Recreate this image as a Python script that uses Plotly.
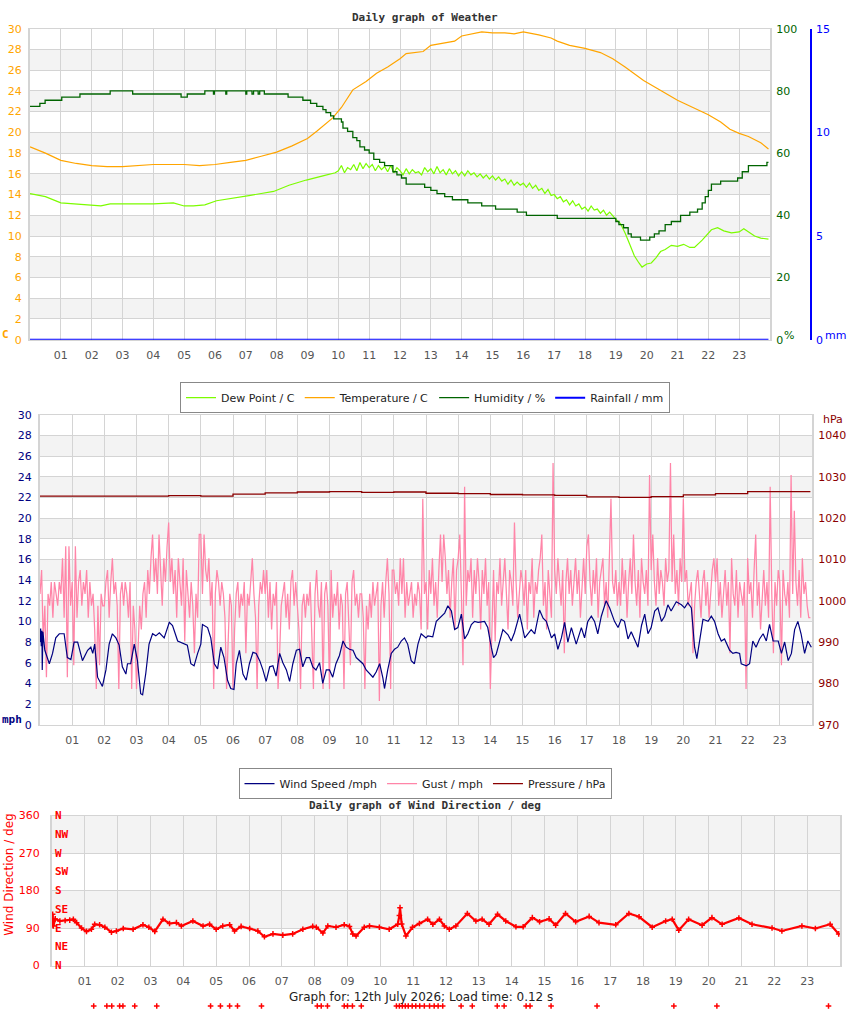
import plotly.graph_objects as go

W, H = 850, 1017
FONT = "DejaVu Sans"
MONO = "DejaVu Sans Mono"

# ---------------- Panel 1 : Weather ----------------
temp_hours = [0, 0.5, 1.0, 1.5, 2.0, 2.5, 3.0, 3.5, 4.0, 4.5, 5.0, 5.5, 6.0, 6.5, 7.0, 7.5, 8.0, 8.5,
              9.0, 9.3, 9.6, 9.82, 10.1, 10.47, 10.9, 11.24, 11.6, 12.0, 12.2, 12.75, 13.0, 13.4, 13.77,
              14.0, 14.3, 14.65, 15.0, 15.4, 15.7, 16.0, 16.5, 16.9, 17.1, 17.5, 18.0, 18.5, 18.9, 19.3,
              19.9, 20.5, 21.0, 21.5, 22.0, 22.4, 22.7, 23.0, 23.3, 23.7, 23.95]
temp_c = [18.6, 18.0, 17.3, 17.0, 16.8, 16.7, 16.7, 16.8, 16.9, 16.9, 16.9, 16.8, 16.9, 17.1, 17.3, 17.7,
          18.1, 18.7, 19.4, 20.1, 20.9, 21.4, 22.4, 24.1, 24.9, 25.7, 26.3, 27.1, 27.6, 27.8, 28.4, 28.6,
          28.8, 29.3, 29.5, 29.7, 29.6, 29.6, 29.5, 29.7, 29.4, 29.1, 28.8, 28.4, 28.1, 27.7, 27.1, 26.3,
          25.0, 24.0, 23.1, 22.4, 21.7, 21.0, 20.3, 19.9, 19.6, 19.0, 18.4]

dew_hours_early = [0, 0.5, 1.0, 1.5, 2.0, 2.3, 2.6, 3.0, 3.5, 4.0, 4.65, 5.0, 5.3, 5.67, 6.05, 6.6, 7.1,
                   7.5, 7.9, 8.4, 8.96, 9.5, 9.9]
dew_c_early = [14.1, 13.8, 13.2, 13.1, 13.0, 12.9, 13.1, 13.1, 13.1, 13.1, 13.2, 12.9, 12.9, 13.0, 13.4,
               13.7, 13.9, 14.1, 14.3, 14.9, 15.4, 15.8, 16.1]
# 6-minute readings 10:00 - 18:54 (noisy part)
dew_c_mid = [16.3, 16.8, 16.1, 16.6, 16.4, 16.9, 16.3, 17.1, 16.5, 17.0,
             16.6, 16.9, 16.3, 16.8, 16.4, 16.7, 16.2, 16.8, 16.1, 16.6,
             16.3, 15.9, 16.5, 16.0, 16.4, 16.1, 16.2, 15.9, 16.6, 16.2,
             16.5, 16.0, 16.7, 16.1, 16.4, 15.9, 16.5, 16.0, 16.3, 15.8,
             16.2, 15.8, 16.3, 15.9, 16.1, 15.7, 16.0, 15.6, 15.9, 15.5,
             15.8, 15.4, 15.7, 15.3, 15.5, 15.0, 15.4, 14.9, 15.2, 14.9,
             15.1, 14.7, 15.1, 14.6, 14.9, 14.4, 14.6, 14.1, 14.5, 13.9,
             14.0, 13.6, 13.8, 13.3, 13.5, 13.0, 13.4, 12.9, 13.1, 12.6,
             12.8, 12.4, 12.9, 12.5, 12.6, 12.2, 12.5, 12.0, 12.3, 11.9]
dew_hours_mid = [10 + i / 10 for i in range(len(dew_c_mid))]
dew_hours_late = [19.0, 19.15, 19.3, 19.45, 19.6, 19.75, 19.85, 20.0, 20.15, 20.3, 20.45, 20.6, 20.8, 21.0,
                  21.2, 21.4, 21.55, 21.8, 22.1, 22.3, 22.5, 22.75, 23.0, 23.15, 23.3, 23.5, 23.7, 23.95]
dew_c_late = [11.6, 11.2, 10.3, 9.2, 8.1, 7.4, 7.0, 7.3, 7.4, 7.9, 8.5, 8.7, 9.1, 9.0, 9.2, 8.9, 8.9, 9.6,
              10.6, 10.8, 10.5, 10.3, 10.4, 10.7, 10.4, 10.0, 9.8, 9.7]
dew_hours = dew_hours_early + dew_hours_mid + dew_hours_late
dew_c = dew_c_early + dew_c_mid + dew_c_late

hum_hours = [0, 0.32, 0.49, 1.03, 1.62, 2.6, 3.33, 4.9, 5.1, 5.67, 5.95, 5.98, 6.35, 6.38, 7.0, 7.03,
             7.2, 7.25, 7.4, 7.45, 7.6, 8.37, 8.85, 9.1, 9.3, 9.5, 9.6, 9.75, 9.85, 10.1, 10.15, 10.3,
             10.47, 10.6, 10.7, 10.85, 11.0, 11.15, 11.34, 11.5, 11.77, 11.9, 12.05, 12.2, 12.8, 13.0,
             13.2, 13.45, 13.7, 14.2, 14.65, 15.1, 15.8, 16.1, 17.1, 19.0, 19.1, 19.25, 19.4, 19.5, 19.8,
             20.1, 20.25, 20.4, 20.6, 20.8, 21.1, 21.4, 21.65, 21.8, 21.9, 22.0, 22.1, 22.4, 22.95, 23.1,
             23.3, 23.9, 23.95]
hum_pct = [75, 76, 77, 78, 79, 80, 79, 78, 79, 80, 79, 80, 79, 80, 79, 80, 79, 80, 79, 80, 79, 78, 77,
           76, 75, 74, 73, 72, 71, 70, 68, 67, 65, 64, 62, 61, 60, 58, 57, 56, 54, 53, 52, 50, 49, 48, 47,
           46, 45, 44, 43, 42, 41, 40, 39, 38, 37, 36, 34, 33, 32, 33, 34, 35, 37, 38, 40, 41, 42, 44, 46,
           48, 50, 51, 52, 54, 56, 57, 57]

rain_hours = [0, 23.95]
rain_mm = [0, 0]

# ---------------- Panel 2 : Wind speed / gust / pressure ----------------
wind_hours = [0.0, 0.02, 0.04, 0.06, 0.07, 0.09, 0.15, 0.29, 0.39, 0.49, 0.6, 0.75, 0.85, 0.96, 1.06, 1.17,
              1.32, 1.48, 1.58, 1.64, 1.7, 1.79, 1.94, 2.05, 2.15, 2.25, 2.36, 2.46, 2.56, 2.67, 2.72, 2.82,
              2.93, 3.03, 3.13, 3.19, 3.29, 3.39, 3.5, 3.6, 3.71, 3.86, 4.02, 4.12, 4.28, 4.48, 4.58, 4.69,
              4.79, 4.9, 5.0, 5.05, 5.21, 5.31, 5.42, 5.52, 5.62, 5.72, 5.83, 5.93, 6.03, 6.1, 6.2, 6.31,
              6.41, 6.51, 6.62, 6.72, 6.83, 6.93, 7.03, 7.14, 7.24, 7.34, 7.45, 7.55, 7.66, 7.76, 7.86, 7.97,
              8.07, 8.17, 8.28, 8.38, 8.48, 8.58, 8.69, 8.79, 8.9, 9.0, 9.1, 9.2, 9.31, 9.42, 9.52, 9.62,
              9.73, 9.83, 9.93, 10.04, 10.14, 10.25, 10.35, 10.45, 10.56, 10.66, 10.71, 10.81, 10.92, 11.02,
              11.12, 11.23, 11.33, 11.43, 11.54, 11.64, 11.75, 11.85, 12.0, 12.06, 12.21, 12.32, 12.48,
              12.58, 12.68, 12.79, 12.89, 12.99, 13.1, 13.2, 13.3, 13.41, 13.51, 13.62, 13.82, 13.92, 14.03,
              14.1, 14.18, 14.29, 14.39, 14.55, 14.65, 14.75, 14.91, 15.07, 15.17, 15.27, 15.38, 15.53,
              15.64, 15.74, 15.9, 16.0, 16.1, 16.21, 16.31, 16.41, 16.52, 16.67, 16.83, 16.93, 17.03, 17.14,
              17.24, 17.34, 17.45, 17.6, 17.71, 17.86, 17.97, 18.07, 18.17, 18.28, 18.38, 18.49, 18.59,
              18.7, 18.8, 18.9, 19.0, 19.11, 19.21, 19.32, 19.42, 19.52, 19.62, 19.78, 19.94, 20.04, 20.14,
              20.25, 20.35, 20.42, 20.5, 20.61, 20.77, 20.87, 20.97, 21.08, 21.18, 21.28, 21.44, 21.54,
              21.64, 21.75, 21.8, 21.96, 22.06, 22.16, 22.26, 22.37, 22.48, 22.58, 22.68, 22.79, 22.95,
              23.05, 23.15, 23.26, 23.36, 23.46, 23.56, 23.66, 23.77, 23.87, 23.98]
wind_mph = [8.0, 9.3, 7.6, 9.1, 5.3, 9.0, 7.2, 5.9, 6.9, 8.4, 8.8, 8.8, 6.5, 6.3, 8.0, 8.0,
            6.2, 7.2, 7.5, 6.9, 7.8, 4.6, 3.7, 5.3, 7.8, 8.8, 8.4, 7.7, 5.6, 4.9, 5.9, 5.9,
            7.8, 6.2, 3.0, 2.9, 5.0, 7.8, 8.8, 8.6, 8.9, 8.4, 9.9, 9.6, 8.1, 7.8, 7.7, 5.9,
            5.7, 6.9, 7.8, 9.7, 9.4, 8.4, 5.9, 5.4, 7.5, 6.5, 4.3, 3.5, 3.4, 5.9, 7.2, 4.9,
            4.3, 5.9, 7.0, 6.9, 6.2, 5.3, 4.2, 5.6, 5.7, 4.7, 6.9, 6.0, 5.3, 4.2, 5.9, 7.2,
            7.3, 5.6, 6.5, 6.5, 5.6, 5.3, 6.0, 4.0, 5.3, 5.3, 4.6, 5.9, 6.7, 8.1, 7.5, 7.3,
            7.2, 6.5, 6.2, 5.9, 5.3, 4.9, 4.6, 5.1, 5.9, 4.5, 3.5, 5.3, 6.9, 7.3,
            7.5, 8.1, 8.4, 7.8, 6.2, 5.9, 7.8, 8.8, 8.4, 8.6, 8.5, 10.0, 10.5,
            10.8, 11.5, 11.0, 9.2, 9.4, 10.7, 8.3, 8.8, 9.7, 10.0, 9.9, 10.0, 9.4, 7.5,
            6.5, 6.8, 8.1, 9.2, 8.7, 8.1, 8.9, 10.7, 8.4, 8.8, 9.2, 8.8, 11.1,
            10.3, 10.0, 8.4, 8.8, 7.3, 8.4, 9.9, 8.0, 9.4, 7.8, 9.4, 8.4, 10.0, 10.5,
            10.0, 8.8, 10.5, 12.0, 11.3, 10.0, 9.4, 10.2, 10.0, 8.3, 9.0, 8.3, 7.5,
            9.6, 10.7, 8.8, 9.4, 11.0, 11.3, 10.0, 10.5, 11.6, 11.0, 11.9, 11.6, 11.3, 11.8,
            11.3, 7.5, 6.4, 8.1, 10.2, 10.0, 10.5, 10.0, 8.8, 8.1, 8.3, 7.2, 6.9,
            7.0, 6.9, 5.9, 5.7, 5.9, 8.1, 7.5, 8.3, 8.8, 8.1, 9.7, 8.1, 8.1,
            6.9, 8.0, 6.2, 6.9, 9.2, 10.0, 8.8, 6.9, 8.1, 7.5]

# gusts read in whole knots, 3-minute samples (20 per hour)
gust_kt = [
    11, 13, 7, 10, 4, 11, 10, 12, 9, 12, 11, 10, 12, 11, 14, 9, 15, 4, 15, 10,
    12, 5, 15, 9, 12, 13, 10, 12, 11, 13, 9, 12, 10, 11, 8, 3, 10, 5, 11, 10,
    10, 12, 13, 9, 12, 14, 11, 12, 10, 3, 11, 12, 10, 12, 11, 9, 12, 3, 10, 8,
    3, 7, 10, 8, 11, 12, 9, 13, 11, 14, 16, 12, 14, 11, 16, 13, 10, 14, 12, 15,
    17, 12, 14, 11, 13, 9, 14, 12, 10, 14, 7, 13, 11, 9, 12, 10, 6, 11, 9, 16,
    16, 11, 16, 13, 12, 14, 10, 12, 3, 11, 13, 12, 10, 12, 11, 9, 3, 7, 11, 10,
    3, 8, 11, 12, 9, 11, 10, 12, 6, 11, 10, 12, 14, 11, 9, 3, 10, 12, 11, 13,
    11, 13, 9, 12, 8, 11, 10, 12, 3, 6, 10, 11, 12, 9, 11, 8, 12, 13, 10, 12,
    10, 8, 3, 10, 11, 9, 11, 10, 12, 8, 3, 11, 13, 10, 9, 12, 3, 11, 12, 10,
    3, 13, 9, 11, 10, 12, 8, 11, 10, 3, 11, 12, 9, 5, 12, 13, 10, 11, 9, 11,
    11, 9, 3, 10, 8, 11, 9, 12, 10, 11, 12, 2, 10, 12, 9, 12, 14, 11, 3, 13,
    13, 11, 12, 10, 14, 11, 14, 9, 12, 10, 11, 12, 9, 11, 10, 12, 11, 8, 19, 11,
    12, 8, 13, 11, 14, 10, 12, 9, 13, 16, 12, 16, 14, 11, 13, 9, 12, 14, 8, 13,
    14, 16, 11, 5, 20, 10, 13, 12, 14, 9, 13, 11, 14, 12, 8, 13, 11, 14, 10, 12,
    3, 9, 13, 7, 12, 11, 14, 10, 12, 14, 11, 8, 13, 12, 10, 17, 12, 9, 11, 13,
    12, 10, 13, 8, 12, 11, 14, 9, 12, 11, 13, 14, 16, 10, 12, 8, 13, 11, 9, 22,
    13, 11, 14, 12, 10, 13, 6, 12, 14, 11, 13, 10, 12, 14, 11, 13, 9, 12, 14, 11,
    15, 16, 12, 10, 13, 11, 14, 9, 12, 13, 14, 10, 12, 9, 14, 19, 12, 11, 13, 10,
    12, 10, 14, 11, 13, 9, 12, 14, 11, 16, 12, 10, 13, 9, 14, 12, 11, 13, 10, 21,
    13, 16, 12, 10, 14, 11, 13, 12, 10, 14, 12, 13, 22, 12, 16, 11, 13, 10, 14, 12,
    19, 12, 13, 10, 11, 12, 6, 10, 12, 13, 11, 9, 12, 13, 10, 12, 9, 11, 13, 14,
    12, 14, 10, 12, 9, 11, 13, 10, 12, 6, 14, 11, 10, 13, 9, 12, 11, 10, 12, 3,
    14, 11, 12, 9, 13, 16, 10, 12, 8, 11, 13, 10, 12, 9, 20, 11, 6, 12, 10, 13,
    12, 5, 13, 11, 10, 12, 9, 21, 11, 18, 12, 10, 13, 9, 14, 11, 12, 10, 9, 9,
]
KT_TO_MPH = 1.1508
gust_hours = [i / 20 for i in range(len(gust_kt))]
gust_mph = [k * KT_TO_MPH for k in gust_kt]

pres_hours = [0, 2, 4, 5, 6, 7, 8, 9, 10, 11, 12, 13, 14, 15, 16, 17, 18, 19, 20, 21, 22, 23, 23.95]
pres_hpa = [1025.3, 1025.3, 1025.4, 1025.3, 1025.8, 1026.1, 1026.3, 1026.4, 1026.2, 1026.3, 1026.0,
            1025.9, 1025.7, 1025.6, 1025.5, 1025.1, 1025.0, 1025.2, 1025.6, 1025.9, 1026.4, 1026.4, 1026.4]

# ---------------- Panel 3 : Wind direction ----------------
wd_hours = [0.0, 0.02, 0.04, 0.1, 0.24, 0.4, 0.54, 0.65, 0.75, 0.9, 1.05, 1.2, 1.3, 1.45, 1.61, 1.81, 1.96,
            2.17, 2.47, 2.77, 2.95, 3.13, 3.38, 3.58, 3.79, 3.94, 4.29, 4.6, 4.8, 5.0, 5.2, 5.41, 5.56,
            5.76, 6.02, 6.27, 6.47, 6.73, 7.03, 7.33, 7.64, 7.94, 8.05, 8.25, 8.4, 8.65, 8.9, 9.06, 9.16,
            9.26, 9.51, 9.67, 9.97, 10.27, 10.53, 10.58, 10.6, 10.65, 10.78, 10.98, 11.19, 11.44, 11.6,
            11.8, 11.95, 12.1, 12.3, 12.65, 12.91, 13.1, 13.31, 13.57, 13.82, 14.13, 14.35, 14.63, 14.85,
            15.14, 15.34, 15.64, 15.95, 16.36, 16.66, 17.17, 17.57, 17.88, 18.28, 18.69, 18.89, 19.09,
            19.39, 19.8, 20.1, 20.41, 20.92, 21.32, 21.93, 22.23, 22.84, 23.25, 23.7, 23.96]
wd_deg = [97, 123, 95, 112, 107, 108, 109, 111, 103, 90, 82, 87, 99, 98, 92, 80, 83,
          89, 87, 98, 92, 82, 111, 101, 103, 95, 107, 95, 99, 87, 95, 98, 83,
          94, 89, 83, 69, 76, 73, 76, 87, 94, 92, 78, 95, 92, 98, 94, 76,
          71, 92, 95, 92, 87, 99, 120, 139, 100, 71, 92, 101, 111, 99,
          111, 95, 87, 95, 125, 107, 111, 99, 123, 107, 93, 93, 115, 105,
          112, 97, 125, 105, 118, 103, 98, 125, 117, 92, 107, 111, 85,
          111, 97, 115, 99, 114, 99, 90, 83, 95, 89, 99, 76]

# stray direction readings that the source page drew below the chart
stray_hours = [1.27, 1.67, 1.82, 2.06, 2.16, 2.52, 3.19, 4.83, 5.13, 5.41, 5.65, 6.38, 8.08, 8.2, 8.39,
               8.9, 9.0, 9.15, 9.42, 10.49, 10.58, 10.67, 10.76, 10.85, 10.97, 11.08, 11.2, 11.34, 11.5,
               11.64, 11.76, 11.9, 12.46, 12.8, 13.56, 13.77, 14.44, 14.56, 15.2, 16.6, 18.94, 20.25, 23.65]
stray_level = [0.5] * len(stray_hours)

hour_ticks = list(range(1, 24))
hour_labels = [f"{h:02d}" for h in hour_ticks]
compass_vals = [0, 45, 90, 135, 180, 225, 270, 315, 360]
compass_text = ["N", "NE", "E", "SE", "S", "SW", "W", "NW", "N"]

# ---------------- colours ----------------
C_DEW = "#7CFC00"
C_TEMP = "#FFA500"
C_HUM = "#006400"
C_RAIN = "#0000FF"
C_WIND = "#000080"
C_GUST = "#FF85A8"
C_PRES = "#8B0000"
C_DIR = "#FF0000"
GRID = "#d4d4d4"
BAND = "#f3f3f3"


def px(x):
    return x / W


def py(y):
    return 1 - y / H


fig = go.Figure()

# panel 1 traces
fig.add_trace(go.Scatter(x=dew_hours, y=dew_c, mode="lines", name="Dew Point / C",
                         line=dict(color=C_DEW, width=1.2), xaxis="x", yaxis="y", legend="legend"))
fig.add_trace(go.Scatter(x=temp_hours, y=temp_c, mode="lines", name="Temperature / C",
                         line=dict(color=C_TEMP, width=1.2), xaxis="x", yaxis="y", legend="legend"))
fig.add_trace(go.Scatter(x=hum_hours, y=hum_pct, mode="lines", name="Humidity / %",
                         line=dict(color=C_HUM, width=1.3, shape="hv"), xaxis="x", yaxis="y2",
                         legend="legend"))
fig.add_trace(go.Scatter(x=rain_hours, y=rain_mm, mode="lines", name="Rainfall / mm",
                         line=dict(color=C_RAIN, width=2), xaxis="x", yaxis="y3", legend="legend",
                         cliponaxis=False))

# panel 2 traces
fig.add_trace(go.Scatter(x=gust_hours, y=gust_mph, mode="lines", name="Gust / mph",
                         line=dict(color=C_GUST, width=1.25), xaxis="x2", yaxis="y4",
                         legend="legend2", legendrank=2))
fig.add_trace(go.Scatter(x=wind_hours, y=wind_mph, mode="lines", name="Wind Speed /mph",
                         line=dict(color=C_WIND, width=1.2), xaxis="x2", yaxis="y4",
                         legend="legend2", legendrank=1))
fig.add_trace(go.Scatter(x=pres_hours, y=pres_hpa, mode="lines", name="Pressure / hPa",
                         line=dict(color=C_PRES, width=1.3, shape="hv"), xaxis="x2", yaxis="y5",
                         legend="legend2", legendrank=3))

# panel 3 traces
fig.add_trace(go.Scatter(x=wd_hours, y=wd_deg, mode="lines+markers", showlegend=False,
                         line=dict(color=C_DIR, width=2.2),
                         marker=dict(symbol="cross-thin", size=4, line=dict(color=C_DIR, width=1.5)),
                         xaxis="x3", yaxis="y6"))
fig.add_trace(go.Scatter(x=stray_hours, y=stray_level, mode="markers", showlegend=False,
                         marker=dict(symbol="cross-thin", size=4, line=dict(color=C_DIR, width=1.5)),
                         xaxis="x4", yaxis="y8"))

# background bands
shapes = []
for lo in range(2, 30, 4):
    shapes.append(dict(type="rect", xref="x domain", yref="y", x0=0, x1=1, y0=lo, y1=lo + 2,
                       fillcolor=BAND, line=dict(width=0), layer="below"))
    shapes.append(dict(type="rect", xref="x2 domain", yref="y4", x0=0, x1=1, y0=lo, y1=lo + 2,
                       fillcolor=BAND, line=dict(width=0), layer="below"))
for lo in (90, 270):
    shapes.append(dict(type="rect", xref="x3 domain", yref="y6", x0=0, x1=1, y0=lo, y1=lo + 90,
                       fillcolor=BAND, line=dict(width=0), layer="below"))


def xaxis_common(domain, anchor):
    return dict(domain=domain, anchor=anchor, range=[0, 24], tickmode="array", tickvals=hour_ticks,
                ticktext=hour_labels, showgrid=True, gridcolor=GRID, gridwidth=1, zeroline=False,
                showline=True, linecolor=GRID, linewidth=1, mirror=True, ticks="outside", ticklen=5,
                tickcolor="rgba(0,0,0,0)", tickfont=dict(family=FONT, size=11, color="#555"))


def tick_font(color, bold=False, family=FONT):
    return dict(family=family, size=11, color=color, weight="bold" if bold else "normal")


d1 = [py(338), py(23)]
d2 = [py(728), py(414)]
d3 = [py(972), py(820)]

fig.update_layout(
    width=W, height=H, margin=dict(l=0, r=0, t=0, b=0),
    paper_bgcolor="white", plot_bgcolor="white",
    shapes=shapes,
    xaxis=xaxis_common([px(30), px(770)], "y"),
    yaxis=dict(domain=d1, anchor="x", range=[0, 30], dtick=2, showgrid=True, gridcolor=GRID,
               zeroline=False, showline=True, linecolor=GRID, linewidth=2, mirror=True,
               ticks="outside", ticklen=4, tickcolor="rgba(0,0,0,0)", tickfont=tick_font(C_TEMP)),
    yaxis2=dict(overlaying="y", anchor="x", side="right", range=[0, 100], dtick=20, showgrid=False,
                zeroline=False, showline=False, ticks="outside", ticklen=3, tickcolor="rgba(0,0,0,0)",
                tickfont=tick_font(C_HUM)),
    yaxis3=dict(overlaying="y", anchor="free", position=px(811), side="right", range=[0, 15], dtick=5,
                showgrid=False, zeroline=False, showline=True, linecolor=C_RAIN, linewidth=1.5,
                ticks="outside", ticklen=2, tickcolor="rgba(0,0,0,0)", tickfont=tick_font(C_RAIN)),
    xaxis2=xaxis_common([px(40), px(812)], "y4"),
    yaxis4=dict(domain=d2, anchor="x2", range=[0, 30], dtick=2, showgrid=True, gridcolor=GRID,
                zeroline=False, showline=True, linecolor=GRID, linewidth=2, mirror=True,
                ticks="outside", ticklen=4, tickcolor="rgba(0,0,0,0)", tickfont=tick_font(C_WIND)),
    yaxis5=dict(overlaying="y4", anchor="x2", side="right", range=[970, 1045],
                tickvals=list(range(970, 1041, 10)), showgrid=False, zeroline=False, showline=False,
                ticks="outside", ticklen=3, tickcolor="rgba(0,0,0,0)", tickfont=tick_font(C_PRES)),
    xaxis3=xaxis_common([px(52), px(840)], "y6"),
    yaxis6=dict(domain=d3, anchor="x3", range=[0, 360], tickvals=[0, 90, 180, 270, 360], showgrid=True,
                gridcolor=GRID, zeroline=False, showline=True, linecolor=GRID, linewidth=2, mirror=True,
                ticks="outside", ticklen=8, tickcolor="rgba(0,0,0,0)", tickfont=tick_font(C_DIR)),
    xaxis4=dict(domain=[px(52), px(840)], anchor="y8", range=[0, 24], visible=False),
    yaxis8=dict(domain=[0, py(1009)], anchor="x4", range=[0, 1], visible=False),
    legend=dict(orientation="h", x=0.5, xanchor="center", y=py(381), yanchor="top",
                bordercolor="#888", borderwidth=1, bgcolor="white", itemwidth=30,
                font=dict(family=FONT, size=11, color="#222")),
    legend2=dict(orientation="h", x=0.5, xanchor="center", y=py(772), yanchor="top",
                 bordercolor="#888", borderwidth=1, bgcolor="white", itemwidth=30,
                 font=dict(family=FONT, size=11, color="#222")),
)

ann = []


def add_text(text, x, y, color, size=11, bold=False, family=FONT, xanchor="center", angle=0):
    ann.append(dict(text=text, x=px(x), y=py(y), xref="paper", yref="paper", showarrow=False,
                    xanchor=xanchor, yanchor="middle", textangle=angle,
                    font=dict(family=family, size=size, color=color,
                              weight="bold" if bold else "normal")))


add_text("Daily graph of Weather", 425, 12, "#333", bold=True, family=MONO)
add_text("Daily graph of Wind Direction / deg", 425, 810, "#333", bold=True, family=MONO)
add_text("C", 5, 333, C_TEMP, bold=True, family=MONO)
add_text("%", 789, 334, C_HUM)
add_text("mm", 835, 334, C_RAIN)
add_text("mph", 12, 723, C_WIND, bold=True, family=MONO)
add_text("hPa", 833, 419, C_PRES)
add_text("Wind Direction / deg", 9, 880, C_DIR, size=12, angle=-90)
add_text("Graph for: 12th July 2026; Load time: 0.12 s", 421, 1004, "#222", size=12)

# compass labels just inside the left edge of the direction chart
for v, t in zip(compass_vals, compass_text):
    ann.append(dict(text=t, x=0, xref="x3 domain", y=v, yref="y6", showarrow=False,
                    xanchor="left", yanchor="middle", xshift=1,
                    font=dict(family=MONO, size=11, color=C_DIR, weight="bold")))

fig.update_layout(annotations=ann)

fig.write_html("out.html")
